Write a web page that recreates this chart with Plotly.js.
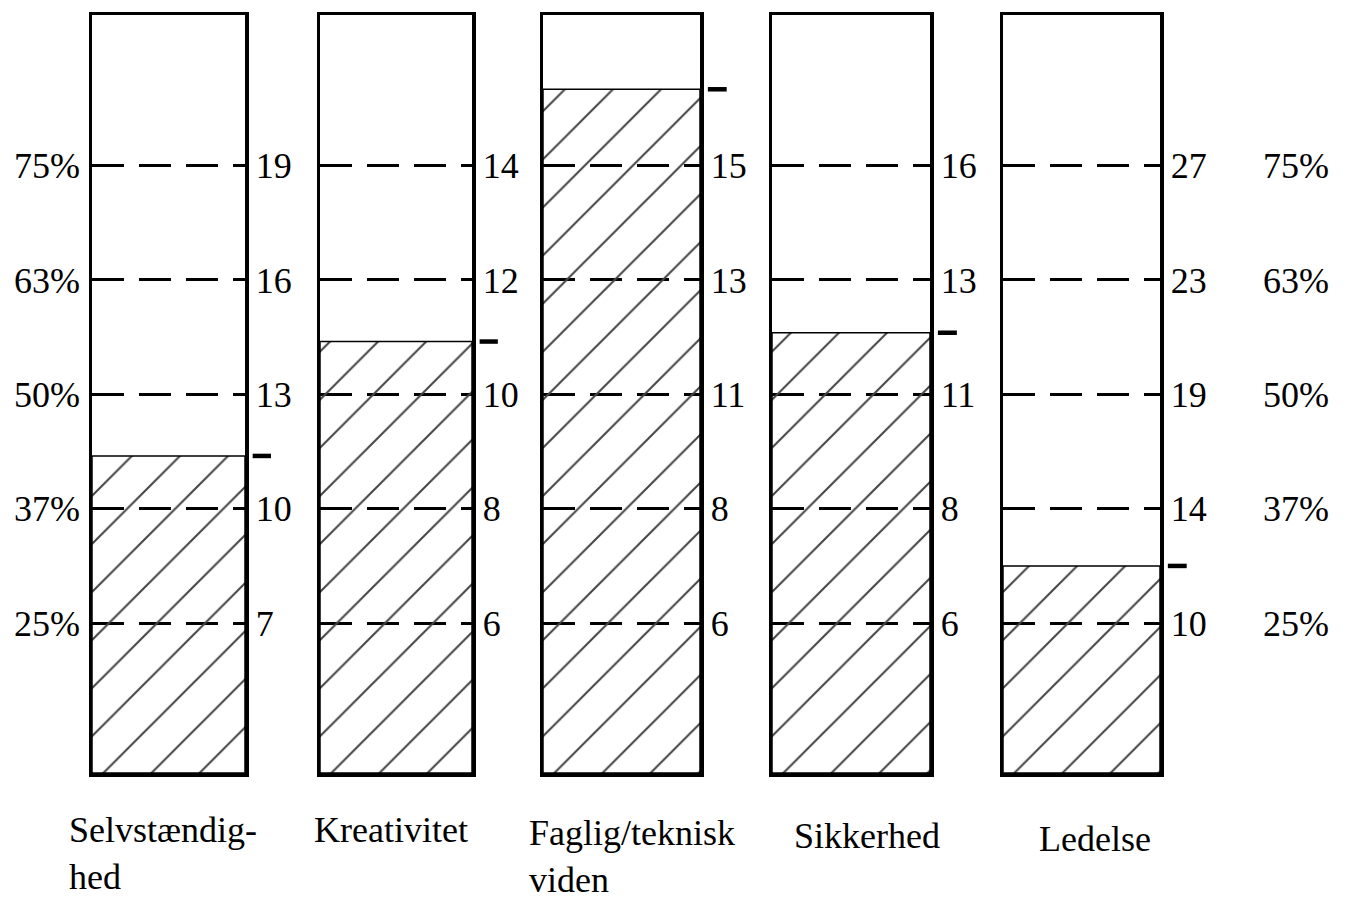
<!DOCTYPE html>
<html>
<head>
<meta charset="utf-8">
<script src="https://cdn.plot.ly/plotly-3.0.1.min.js"></script>
<style>html,body{margin:0;padding:0;background:#fff}#chart{width:1348px;height:904px}</style>
</head>
<body>
<div id="chart"></div>
<script>
// ---- data ----
const categoryLabels = ['Selvstændig-<br>hed', 'Kreativitet', 'Faglig/teknisk<br>viden', 'Sikkerhed', 'Ledelse'];
const percentiles = [25, 37, 50, 63, 75];
const percentLabels = ['25%', '37%', '50%', '63%', '75%'];
const rawSelvstaendighed = ['7', '10', '13', '16', '19'];
const rawKreativitet = ['6', '8', '10', '12', '14'];
const rawFaglig = ['6', '8', '11', '13', '15'];
const rawSikkerhed = ['6', '8', '11', '13', '16'];
const rawLedelse = ['10', '14', '19', '23', '27'];
const scorePercentile = [43, 56, 83, 57, 31];

// ---- helpers ----
const rawScores = [rawSelvstaendighed, rawKreativitet, rawFaglig, rawSikkerhed, rawLedelse];
const levels = percentiles.map((p, i) => i + 1);
function toLevel(p) {
  const n = percentiles.length;
  if (p <= percentiles[0]) return 1 + (p - percentiles[0]) / (percentiles[1] - percentiles[0]);
  if (p >= percentiles[n - 1]) return n + (p - percentiles[n - 1]) / (percentiles[n - 1] - percentiles[n - 2]);
  for (let i = 0; i < n - 1; i++) {
    if (p >= percentiles[i] && p <= percentiles[i + 1]) {
      return i + 1 + (p - percentiles[i]) / (percentiles[i + 1] - percentiles[i]);
    }
  }
}

const W = 1348, H = 904;
const M = {l: 0, r: 0, t: 15, b: 131};
const yLo = -0.31, yHi = 6.316;
const boxPx = [[92, 245], [320, 472], [543, 700], [772, 930], [1003, 1160]];
const FONT = 'Liberation Serif, Times New Roman, serif';
const FS = 36;

const traces = [];
const layout = {
  width: W, height: H, margin: M, showlegend: false,
  paper_bgcolor: '#fff', plot_bgcolor: 'rgba(0,0,0,0)',
  font: {family: FONT, size: FS, color: '#000'},
  annotations: [], shapes: []
};

for (let i = 0; i < 5; i++) {
  const n = i + 1;
  const xa = 'x' + (n === 1 ? '' : n), ya = 'y' + (n === 1 ? '' : n);
  const lv = toLevel(scorePercentile[i]);
  traces.push({
    type: 'bar', x: [0], y: [lv - yLo], base: [yLo], width: [1],
    xaxis: xa, yaxis: ya, hoverinfo: 'skip',
    marker: {
      color: 'rgba(0,0,0,0)',
      line: {color: '#000', width: 1.5},
      pattern: {shape: '/', fgcolor: '#444', size: 34, solidity: 0.06}
    }
  });
  // small marker dash to the right of the box at the score level
  layout.shapes.push({
    type: 'line', xref: xa + ' domain', yref: ya,
    x0: 1.05, x1: 1.17, y0: lv, y1: lv,
    line: {color: '#000', width: 4.5}
  });
  layout['xaxis' + (n === 1 ? '' : n)] = {
    domain: [boxPx[i][0] / W, boxPx[i][1] / W], range: [-0.5, 0.5],
    anchor: ya, showline: true, mirror: true, linewidth: 3.5, linecolor: '#000',
    showticklabels: false, ticks: '', showgrid: false, zeroline: false, fixedrange: true
  };
  layout['yaxis' + (n === 1 ? '' : n)] = {
    anchor: xa, range: [yLo, yHi], tickmode: 'array', tickvals: levels, ticktext: rawScores[i],
    side: 'right', ticks: '', showline: true, mirror: true, linewidth: 3.5, linecolor: '#000',
    showgrid: true, gridcolor: '#000', gridwidth: 3, griddash: '32px,15px',
    zeroline: false, ticklabelstandoff: 0, tickfont: {family: FONT, size: FS, color: '#000'}, fixedrange: true
  };
}

// percent axes, left of first box and right of last box
traces.push({type: 'scatter', mode: 'markers', x: [0], y: [1], xaxis: 'x', yaxis: 'y6', hoverinfo: 'skip', marker: {opacity: 0}});
traces.push({type: 'scatter', mode: 'markers', x: [0], y: [1], xaxis: 'x5', yaxis: 'y7', hoverinfo: 'skip', marker: {opacity: 0}});
layout.yaxis6 = {
  overlaying: 'y', anchor: 'free', position: 92 / W, side: 'left', range: [yLo, yHi],
  tickmode: 'array', tickvals: levels, ticktext: percentLabels, ticks: '', showline: false,
  showgrid: false, zeroline: false, ticklabelstandoff: 12, tickfont: {family: FONT, size: FS, color: '#000'}
};
layout.yaxis7 = {
  overlaying: 'y5', anchor: 'free', position: 1266 / W, side: 'right', range: [yLo, yHi],
  tickmode: 'array', tickvals: levels, ticktext: percentLabels, ticks: '', showline: false,
  showgrid: false, zeroline: false, ticklabelstandoff: -4, tickfont: {family: FONT, size: FS, color: '#000'}
};

// category labels below the boxes
const labelLeftPx = [67, 312, 527, 792, 1037];
const labelTopPx = [808, 808, 811, 814, 817];
const plotH = H - M.t - M.b;
categoryLabels.forEach((t, i) => {
  layout.annotations.push({
    text: t, xref: 'paper', yref: 'paper',
    x: labelLeftPx[i] / W, y: (H - M.b - labelTopPx[i]) / plotH,
    xanchor: 'left', yanchor: 'top', align: 'left', showarrow: false,
    font: {family: FONT, size: FS, color: '#000'}
  });
});

Plotly.newPlot('chart', traces, layout, {displayModeBar: false, staticPlot: true});
</script>
</body>
</html>
